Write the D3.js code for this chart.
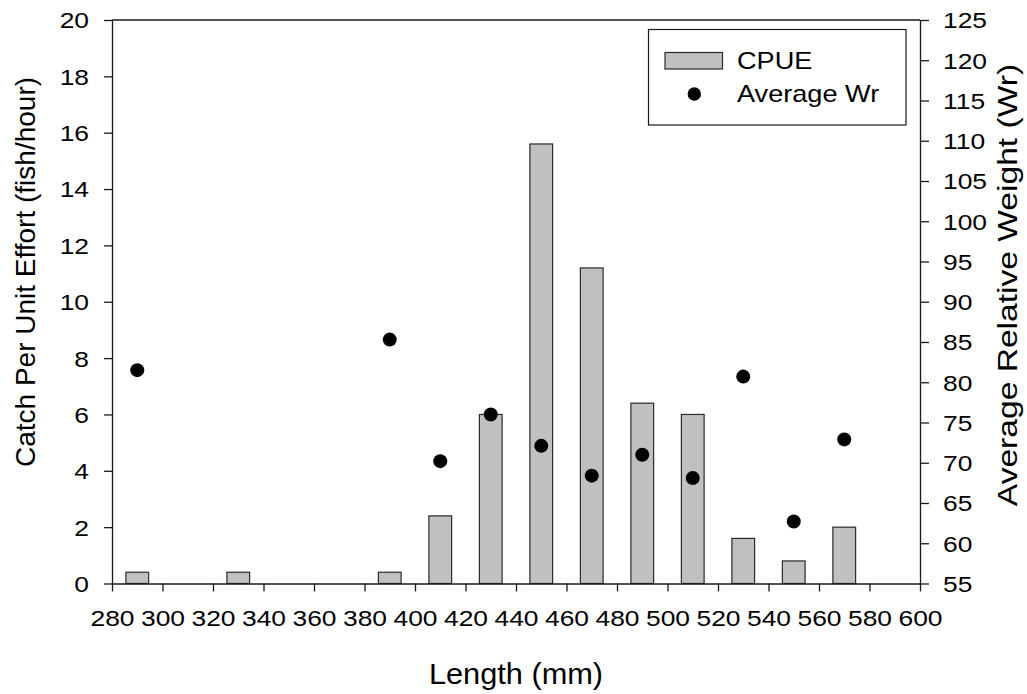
<!DOCTYPE html>
<html lang="en">

<head>
    <meta charset="UTF-8">
    <title>CPUE and Wr by length</title>
    <style>
        body {
            margin: 0;
            background: white;
        }

        #svg {
            display: block;
            background: white;
        }

        text {
            font-family: "Liberation Sans", Arial, sans-serif;
            fill: #000;
        }
    </style>
    <script src="https://cdn.jsdelivr.net/npm/d3@7"></script>
</head>

<body>
    <svg id="svg"></svg>
    <script>
        // data
        const lengths = [290, 330, 390, 410, 430, 450, 470, 490, 510, 530, 550, 570];
        const cpue = [0.4, 0.4, 0.4, 2.4, 6.0, 15.6, 11.2, 6.4, 6.0, 1.6, 0.8, 2.0];
        const wrLengths = [290, 390, 410, 430, 450, 470, 490, 510, 530, 550, 570];
        const avgWr = [81.5, 85.3, 70.2, 76.0, 72.1, 68.4, 71.0, 68.1, 80.7, 62.7, 72.9];
        const xTicks = d3.range(280, 601, 20);
        const yTicks = d3.range(0, 21, 2);
        const y2Ticks = d3.range(55, 126, 5);
        const legendLabels = ['CPUE', 'Average Wr'];

        const width = 1027;
        const height = 694;
        const margin = { top: 20, right: 107, bottom: 110.5, left: 112 };
        const binWidth = 9; // mm

        const svg = d3.select('#svg')
            .attr('width', width)
            .attr('height', height);

        const x = d3.scaleLinear()
            .domain([280, 600])
            .range([margin.left, width - margin.right]);
        const y = d3.scaleLinear()
            .domain([0, 20])
            .range([height - margin.bottom, margin.top]);
        const y2 = d3.scaleLinear()
            .domain([55, 125])
            .range([height - margin.bottom, margin.top]);

        const stretch = 1.2;

        // bars
        svg.append('g')
            .selectAll('rect')
            .data(lengths)
            .enter()
            .append('rect')
            .attr('x', d => x(d - binWidth / 2))
            .attr('width', d => x(d + binWidth / 2) - x(d - binWidth / 2))
            .attr('y', (d, i) => y(cpue[i]))
            .attr('height', (d, i) => y(0) - y(cpue[i]))
            .attr('fill', '#c0c0c0')
            .attr('stroke', '#2a2a2a')
            .attr('stroke-width', 1.2);

        // axes
        const xAxis = svg.append('g')
            .attr('transform', 'translate(0,' + y(0) + ')')
            .call(d3.axisBottom(x).tickValues(xTicks).tickSize(8).tickSizeOuter(0));
        xAxis.selectAll('text')
            .attr('y', 43)
            .attr('dy', 0)
            .attr('transform', 'scale(' + stretch + ',1)');

        const yAxis = svg.append('g')
            .attr('transform', 'translate(' + x(280) + ',0)')
            .call(d3.axisLeft(y).tickValues(yTicks).tickSize(8).tickSizeOuter(0));
        yAxis.selectAll('text')
            .attr('x', 0)
            .attr('dy', '0.36em')
            .attr('transform', 'translate(-23,0) scale(' + stretch + ',1)');

        const y2Axis = svg.append('g')
            .attr('transform', 'translate(' + x(600) + ',0)')
            .call(d3.axisRight(y2).tickValues(y2Ticks).tickSize(9).tickSizeOuter(0));
        y2Axis.selectAll('text')
            .attr('x', 0)
            .attr('dy', '0.36em')
            .attr('transform', 'translate(23,0) scale(' + stretch + ',1)');

        svg.selectAll('.tick text').style('font-size', '22px');
        svg.selectAll('.domain, .tick line')
            .attr('stroke', '#1a1a1a')
            .attr('stroke-width', 1.3);

        // top frame line
        svg.append('line')
            .attr('x1', x(280)).attr('x2', x(600))
            .attr('y1', y(20)).attr('y2', y(20))
            .attr('stroke', '#1a1a1a')
            .attr('stroke-width', 1.3);

        // Wr points
        svg.append('g')
            .selectAll('circle')
            .data(wrLengths)
            .enter()
            .append('circle')
            .attr('cx', d => x(d))
            .attr('cy', (d, i) => y2(avgWr[i]))
            .attr('r', 7)
            .attr('fill', '#000');

        // axis titles
        svg.append('text')
            .attr('transform', 'translate(' + (x(440)) + ',684) scale(1.06,1)')
            .attr('text-anchor', 'middle')
            .style('font-size', '29px')
            .text('Length (mm)');

        svg.append('text')
            .attr('transform', 'translate(35,272) rotate(-90)')
            .attr('text-anchor', 'middle')
            .style('font-size', '28px')
            .text('Catch Per Unit Effort (fish/hour)');

        svg.append('text')
            .attr('transform', 'translate(1017,285) rotate(-90) scale(1.2,1)')
            .attr('text-anchor', 'middle')
            .style('font-size', '28px')
            .text('Average Relative Weight (Wr)');

        // legend
        const legend = svg.append('g');
        legend.append('rect')
            .attr('x', 648.5).attr('y', 29.5)
            .attr('width', 257.5).attr('height', 95.5)
            .attr('fill', 'white')
            .attr('stroke', '#1a1a1a')
            .attr('stroke-width', 1.2);
        legend.append('rect')
            .attr('x', 665).attr('y', 52.5)
            .attr('width', 57.5).attr('height', 16.5)
            .attr('fill', '#c0c0c0')
            .attr('stroke', '#2a2a2a')
            .attr('stroke-width', 1.2);
        legend.append('circle')
            .attr('cx', 694.3).attr('cy', 94)
            .attr('r', 6.7)
            .attr('fill', '#000');
        legend.selectAll('text.lab')
            .data(legendLabels)
            .enter()
            .append('text')
            .attr('class', 'lab')
            .attr('transform', (d, i) => 'translate(737,' + (69 + i * 33) + ') scale(1.18,1)')
            .style('font-size', '23px')
            .text(d => d);
    </script>
</body>

</html>
